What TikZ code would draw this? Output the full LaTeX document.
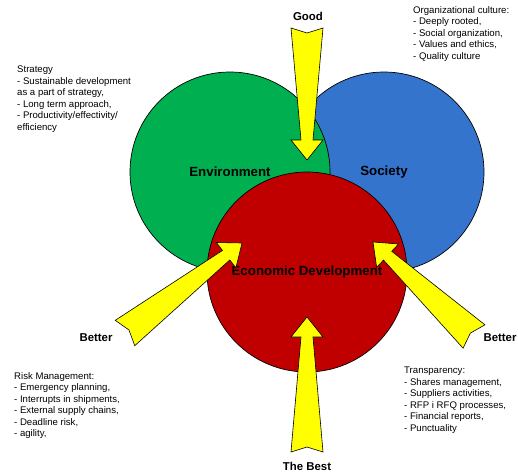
\documentclass[tikz,border=0pt]{standalone}
\usepackage{fontspec}
\setmainfont{Liberation Sans}
\usepackage{tikz}
\usetikzlibrary{calc}
\definecolor{envgreen}{RGB}{0,176,80}
\definecolor{socblue}{RGB}{52,116,204}
\definecolor{ecored}{RGB}{192,0,0}
\definecolor{arrowyellow}{RGB}{255,255,0}

% wide tapered arrow from #1 (tail) to #2 (tip)
\newcommand{\fatarrow}[2]{%
    \coordinate (hb) at ($(#2)!20pt!(#1)$);
    \draw[arrowbody] ($(#1)!16pt!90:(#2)$) -- ($(#1)!5pt!(#2)$) -- ($(#1)!16pt!-90:(#2)$)
        -- ($(hb)!6pt!-90:(#2)$) -- ($(hb)!16pt!-90:(#2)$) -- (#2)
        -- ($(hb)!16pt!90:(#2)$) -- ($(hb)!6pt!90:(#2)$) -- cycle;
}

\begin{document}
\begin{tikzpicture}[x=1pt,y=-1pt,
    circ/.style={circle,draw=black,line width=0.7pt,minimum size=200pt,inner sep=0pt,
        font=\fontsize{13.3}{16}\selectfont\bfseries},
    arrowbody/.style={fill=arrowyellow,draw=black,line width=0.6pt,line join=miter},
    level/.style={font=\fontsize{11.4}{13}\selectfont\bfseries},
    notes/.style={anchor=north west,align=left,inner sep=0pt,
        font=\fontsize{9.6}{11.5}\selectfont}]
    \useasboundingbox (0,0) rectangle (518,474);

    % Cercles
    \node[circ,fill=socblue] (soc) at (384,172) {Society};
    \node[circ,fill=envgreen] (env) at (230,172) {Environment};
    \node[circ,fill=ecored] (eco) at (307,272) {Economic Development};

    % Flèches jaunes
    \coordinate (goodtail) at (307,28);
    \coordinate (goodtip) at (307,160);
    \coordinate (besttail) at (307,452);
    \coordinate (besttip) at (307,317);
    \coordinate (lefttail) at (125,333);
    \coordinate (lefttip) at (242,243);
    \coordinate (righttail) at (474,336.5);
    \coordinate (righttip) at (373,242);
    \fatarrow{goodtail}{goodtip}
    \fatarrow{besttail}{besttip}
    \fatarrow{lefttail}{lefttip}
    \fatarrow{righttail}{righttip}

    % Niveaux
    \node[level] (good) at (308,16) {Good};
    \node[level] (best) at (307,466) {The Best};
    \node[level] (betterleft) at (96,338) {Better};
    \node[level] (betterright) at (500,338) {Better};

    % Textes
    \node[notes] (strategy) at (17,66) {Strategy\\- Sustainable development\\as a part of strategy,\\- Long term approach,\\- Productivity/effectivity/\\efficiency};
    \node[notes] (culture) at (413,6) {Organizational culture:\\- Deeply rooted,\\- Social organization,\\- Values and ethics,\\- Quality culture};
    \node[notes] (risk) at (14,372) {Risk Management:\\- Emergency planning,\\- Interrupts in shipments,\\- External supply chains,\\- Deadline risk,\\- agility,};
    \node[notes] (transp) at (404,367) {Transparency:\\- Shares management,\\- Suppliers activities,\\- RFP i RFQ processes,\\- Financial reports,\\- Punctuality};
\end{tikzpicture}
\end{document}
